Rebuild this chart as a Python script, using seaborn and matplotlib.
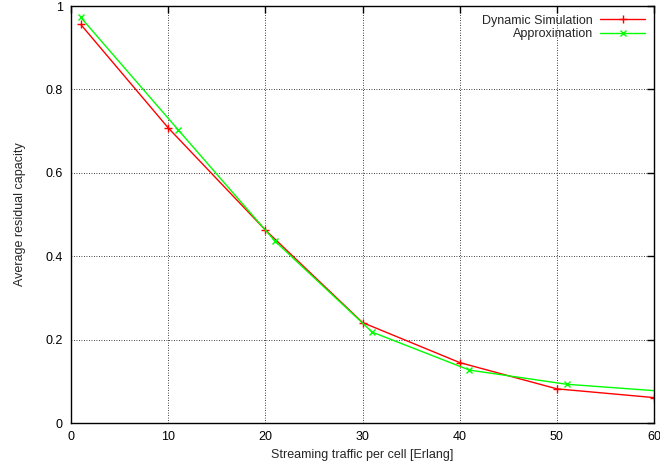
import seaborn as sns
import pandas as pd
from matplotlib import pyplot as plt

# values
sim_traffic = [1, 10, 20, 30, 40, 50, 60]
sim_capacity = [0.956, 0.708, 0.463, 0.241, 0.145, 0.082, 0.061]

approx_traffic = [1, 11, 21, 31, 41, 51, 61]
approx_capacity = [0.973, 0.704, 0.436, 0.218, 0.127, 0.093, 0.076]

x_ticks = [0, 10, 20, 30, 40, 50, 60]
y_ticks = [0, 0.2, 0.4, 0.6, 0.8, 1]
y_tick_labels = ["0", "0.2", "0.4", "0.6", "0.8", "1"]

sim = pd.DataFrame({"traffic": sim_traffic, "capacity": sim_capacity})
approx = pd.DataFrame({"traffic": approx_traffic, "capacity": approx_capacity})

sns.set_style("white")
plt.rcParams['font.family'] = ['Liberation Sans', 'DejaVu Sans']
plt.rcParams['font.size'] = 9

fig = plt.figure(figsize=(6.6, 4.69), dpi=100)
ax = fig.add_axes([0.1076, 0.098, 0.8834, 0.889])

sns.lineplot(data=sim, x="traffic", y="capacity", ax=ax, color="#ff0000",
             marker="+", markersize=6, markeredgewidth=1, linewidth=1,
             markeredgecolor="#ff0000", label="Dynamic Simulation")
sns.lineplot(data=approx, x="traffic", y="capacity", ax=ax, color="#00ff00",
             marker="x", markersize=5, markeredgewidth=1, linewidth=1,
             markeredgecolor="#00ff00", label="Approximation")

ax.set_xlim(0, 60)
ax.set_ylim(0, 1)
ax.set_xticks(x_ticks)
ax.set_yticks(y_ticks)
ax.set_yticklabels(y_tick_labels)
ax.tick_params(direction="in", top=True, right=True, length=5, width=1,
               labelsize=9, colors="black", pad=6)
ax.grid(True, color="black", linestyle=(0, (1, 2)), linewidth=0.6)
for s in ax.spines.values():
    s.set_color("black")
    s.set_linewidth(1)

ax.set_xlabel("Streaming traffic per cell [Erlang]", fontsize=9, labelpad=4)
ax.set_ylabel("Average residual capacity", fontsize=9, labelpad=14)

ax.legend(loc="upper right", frameon=False, markerfirst=False, fontsize=9,
          handlelength=3.6, labelspacing=0.1, borderaxespad=0.3,
          handletextpad=0.6)

plt.savefig("out.png", dpi=100)
